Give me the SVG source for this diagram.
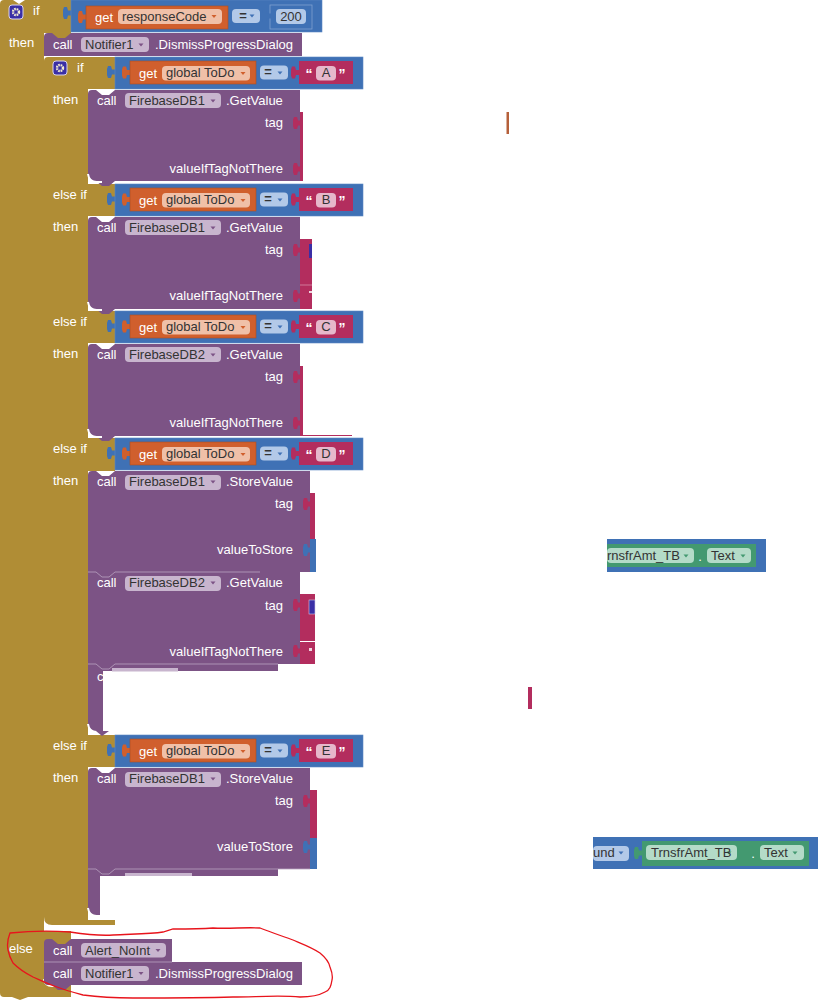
<svg xmlns="http://www.w3.org/2000/svg" width="818" height="1000" viewBox="0 0 818 1000">
<style>
text{font-family:"Liberation Sans",Arial,sans-serif;font-size:13px}
.w{fill:#fff}.k{fill:#333}.m{text-anchor:middle}.e{text-anchor:end}.b{font-weight:bold}
.q{font-size:14px;font-weight:bold;fill:#fff;text-anchor:middle}
.gold{fill:#b08d35}.blue{fill:#3f71b5;stroke:#5a88c4;stroke-width:.6}.or{fill:#d05f2d;stroke:#a84d24;stroke-width:.6}.pk{fill:#b32d5e}.pu{fill:#7c5385}.gr{fill:#439970}
.por{fill:#f0c0a8}.ppu{fill:#c8b5ce}.pbl{fill:#b3c9e8}.pgr{fill:#b4dbc8}.ppk{fill:#e6b8cb}
.ao{fill:#d05f2d}.ap{fill:#7c5385}.ab{fill:#3f71b5}.ag{fill:#439970}
.seam{fill:none;stroke:#b9a3c0;stroke-width:.8}
.gap{fill:none;stroke:#fff;stroke-width:2}
</style>
<defs>
<path id="tab" d="M1 3.500H-3L-4 0H-7L-8 3V9L-7 12H-4L-3 8.500H1Z"/>
<path id="arrow" d="M-2.500 -1.500H2.500L0 1.500Z"/>
<g id="gear"><rect x="0" y="0" width="14" height="14" rx="3" fill="#3a2fa6" stroke="#d8d3ee" stroke-width="1"/><circle cx="7" cy="7" r="3" fill="none" stroke="#f3ecd2" stroke-width="2.400" stroke-dasharray="1.600 .8"/></g>
<g id="cmp">
<use href="#tab" x="0" y="9" class="ab"/>
<rect x="0" y="0" width="248" height="32" class="blue"/>
<use href="#tab" x="15" y="9.500" class="ao"/>
<rect x="15" y="4" width="126" height="23" class="or"/>
<rect x="47" y="9" width="88" height="14.500" rx="4" class="por"/>
<use href="#arrow" x="128" y="16.500" class="ao"/>
<rect x="145" y="8.500" width="28" height="14" rx="4" class="pbl"/>
<use href="#tab" x="184" y="9.500" class="pk"/>
<rect x="184" y="4" width="54" height="23" class="pk"/>
<rect x="201" y="9" width="20" height="14.500" rx="4" class="ppk"/>
</g>
</defs>

<g id="gold-outer">
<path class="gold" d="M0 4Q0 0 4 0H13L19 4L25 0H71V33H44V931H71V997H28L20 1000L12 997H4Q0 997 0 993Z"/>
<path class="gold" d="M48 33H71V39H48Z"/>
</g>
<g id="gold-inner">
<path class="gold" d="M44 61Q44 57 48 57H115V89H88V184H115V216H88V311H115V343H88V438H115V471H88V735H115V767H88V920H115V925H52Q44 925 44 917Z"/>
</g>

<g id="labels-gold">
<use href="#gear" x="9" y="5"/>
<text class="w" x="33" y="15">if</text>
<text class="w" x="9" y="47">then</text>
<use href="#gear" x="53" y="61"/>
<text class="w" x="77" y="72">if</text>
<text class="w" x="53" y="104">then</text>
<text class="w" x="53" y="199">else if</text>
<text class="w" x="53" y="231">then</text>
<text class="w" x="53" y="326">else if</text>
<text class="w" x="53" y="358">then</text>
<text class="w" x="53" y="453">else if</text>
<text class="w" x="53" y="485">then</text>
<text class="w" x="53" y="750">else if</text>
<text class="w" x="53" y="782">then</text>
<text class="w" x="9" y="953">else</text>
</g>

<g id="if-response">
<use href="#tab" x="71" y="7" class="ab"/>
<rect x="71" y="0" width="251" height="32" class="blue"/>
<use href="#tab" x="86" y="11" class="ao"/>
<rect x="86" y="6" width="142" height="23" class="or"/>
<rect x="118" y="9" width="104" height="15" rx="4" class="por"/>
<use href="#arrow" x="214" y="16.500" class="ao"/>
<text class="w" x="95" y="22">get</text>
<text class="k" x="122" y="21">responseCode</text>
<rect x="232" y="9" width="28" height="14" rx="4" class="pbl"/>
<text class="k m b" x="243" y="20">=</text>
<use href="#arrow" x="252" y="16" class="ab"/>
<rect x="270" y="5" width="42" height="24" fill="#3f71b5" stroke="#7fa0d0" stroke-width=".8"/>
<use href="#tab" x="270" y="10" class="ab"/>
<rect x="276" y="9" width="30" height="15" rx="4" class="pbl"/>
<text class="k m" x="291" y="21">200</text>
</g>

<g id="notifier-dismiss-1">
<path class="pu" d="M44 37Q44 33 48 33H52L58 38H65L71 33H302V56H44Z"/>
<rect x="81" y="37" width="68" height="15" rx="4" class="ppu"/>
<use href="#arrow" x="141" y="45" class="ap"/>
<text class="w" x="53" y="49">call</text>
<text class="k" x="85" y="49">Notifier1</text>
<text class="w" x="155" y="49">.DismissProgressDialog</text>
</g>

<g id="cmp-a"><use href="#cmp" x="115" y="57"/><text class="w" x="139" y="78">get</text><text class="k" x="166" y="77">global ToDo</text><text class="k m b" x="268" y="76">=</text><use href="#arrow" x="280" y="73" class="ab"/><text class="q" x="309" y="79">“</text><text class="k m" x="326" y="77">A</text><text class="q" x="342" y="79">”</text></g>
<g id="cmp-b"><use href="#cmp" x="115" y="184"/><text class="w" x="139" y="205">get</text><text class="k" x="166" y="204">global ToDo</text><text class="k m b" x="268" y="203">=</text><use href="#arrow" x="280" y="200" class="ab"/><text class="q" x="309" y="206">“</text><text class="k m" x="326" y="204">B</text><text class="q" x="342" y="206">”</text></g>
<g id="cmp-c"><use href="#cmp" x="115" y="311"/><text class="w" x="139" y="332">get</text><text class="k" x="166" y="331">global ToDo</text><text class="k m b" x="268" y="330">=</text><use href="#arrow" x="280" y="327" class="ab"/><text class="q" x="309" y="333">“</text><text class="k m" x="326" y="331">C</text><text class="q" x="342" y="333">”</text></g>
<g id="cmp-d"><use href="#cmp" x="115" y="438"/><text class="w" x="139" y="459">get</text><text class="k" x="166" y="458">global ToDo</text><text class="k m b" x="268" y="457">=</text><use href="#arrow" x="280" y="454" class="ab"/><text class="q" x="309" y="460">“</text><text class="k m" x="326" y="458">D</text><text class="q" x="342" y="460">”</text></g>
<g id="cmp-e"><use href="#cmp" x="115" y="735"/><text class="w" x="139" y="756">get</text><text class="k" x="166" y="755">global ToDo</text><text class="k m b" x="268" y="754">=</text><use href="#arrow" x="280" y="751" class="ab"/><text class="q" x="309" y="757">“</text><text class="k m" x="326" y="755">E</text><text class="q" x="342" y="757">”</text></g>

<g id="getvalue-a">
<rect x="300" y="112" width="3" height="69" class="pk"/>
<path class="pu" d="M88 94Q88 90 92 90H96L102 95H109L115 90H300V181H115L109 186H102L96 181H96Q88 181 88 173Z"/>
<path class="gap" d="M88 174Q89 182 97 182H102"/>
<use href="#tab" x="301" y="117" class="pk"/><use href="#tab" x="301" y="163" class="pk"/>
<rect x="125" y="93" width="96" height="15" rx="4" class="ppu"/><use href="#arrow" x="213" y="101" class="ap"/>
<text class="w" x="97" y="105">call</text><text class="k" x="129" y="105">FirebaseDB1</text><text class="w" x="226" y="105">.GetValue</text>
<text class="w e" x="283" y="127">tag</text><text class="w e" x="283" y="173">valueIfTagNotThere</text>
</g>

<g id="getvalue-b">
<rect x="300" y="239" width="12" height="70" class="pk"/>
<path d="M300 285H312" stroke="#d88aa8" stroke-width=".8"/>
<rect x="309" y="244" width="3" height="14" fill="#3a2fa6"/>
<rect x="309" y="291" width="3" height="2" fill="#f0d5df"/>
<path class="pu" d="M88 221Q88 217 92 217H96L102 222H109L115 217H300V309H115L109 314H102L96 309H96Q88 309 88 301Z"/>
<path class="gap" d="M88 302Q89 310 97 310H102"/>
<use href="#tab" x="301" y="244" class="pk"/><use href="#tab" x="301" y="290" class="pk"/>
<rect x="125" y="220" width="96" height="15" rx="4" class="ppu"/><use href="#arrow" x="213" y="228" class="ap"/>
<text class="w" x="97" y="232">call</text><text class="k" x="129" y="232">FirebaseDB1</text><text class="w" x="226" y="232">.GetValue</text>
<text class="w e" x="283" y="254">tag</text><text class="w e" x="283" y="300">valueIfTagNotThere</text>
</g>

<g id="getvalue-c">
<rect x="300" y="366" width="3" height="70" class="pk"/>
<rect x="300" y="435" width="52" height="1" class="pk"/>
<path class="pu" d="M88 348Q88 344 92 344H96L102 349H109L115 344H300V436H115L109 441H102L96 436H96Q88 436 88 428Z"/>
<path class="gap" d="M88 429Q89 437 97 437H102"/>
<use href="#tab" x="301" y="371" class="pk"/><use href="#tab" x="301" y="417" class="pk"/>
<rect x="125" y="347" width="96" height="15" rx="4" class="ppu"/><use href="#arrow" x="213" y="355" class="ap"/>
<text class="w" x="97" y="359">call</text><text class="k" x="129" y="359">FirebaseDB2</text><text class="w" x="226" y="359">.GetValue</text>
<text class="w e" x="283" y="381">tag</text><text class="w e" x="283" y="427">valueIfTagNotThere</text>
</g>

<g id="storevalue-d">
<rect x="310" y="493" width="5" height="46" class="pk"/>
<rect x="310" y="539" width="6" height="33" fill="#3f71b5"/>
<path class="pu" d="M88 475Q88 471 92 471H96L102 476H109L115 471H310V572H88Z"/>
<use href="#tab" x="311" y="498" class="pk"/><use href="#tab" x="311" y="544" class="ab"/>
<rect x="125" y="475" width="96" height="15" rx="4" class="ppu"/><use href="#arrow" x="213" y="482" class="ap"/>
<text class="w" x="97" y="486">call</text><text class="k" x="129" y="486">FirebaseDB1</text><text class="w" x="226" y="486">.StoreValue</text>
<text class="w e" x="293" y="508">tag</text><text class="w e" x="293" y="554">valueToStore</text>
</g>

<g id="getvalue-d2">
<rect x="300" y="594" width="15" height="47" class="pk"/>
<rect x="300" y="642" width="15" height="22" class="pk"/>
<rect x="309" y="600" width="6" height="14" fill="#3a2fa6" stroke="#cfc9e8" stroke-width=".6"/>
<rect x="309" y="648" width="3" height="3" fill="#f0d5df"/>
<path class="pu" d="M88 572H300V664H88Z"/>
<path class="seam" d="M88 572H96L102 577H109L115 572H260"/>
<use href="#tab" x="301" y="599" class="pk"/><use href="#tab" x="301" y="645" class="pk"/>
<rect x="125" y="576" width="96" height="15" rx="4" class="ppu"/><use href="#arrow" x="213" y="583" class="ap"/>
<text class="w" x="97" y="587">call</text><text class="k" x="129" y="587">FirebaseDB2</text><text class="w" x="226" y="587">.GetValue</text>
<text class="w e" x="283" y="610">tag</text><text class="w e" x="283" y="656">valueIfTagNotThere</text>
</g>

<g id="cut-call-d">
<path class="pu" d="M88 664H278V671H103V731H96Q88 731 88 723Z"/>
<path class="seam" d="M88 664H96L102 669H109L115 664H278"/>
<rect x="112" y="668" width="66" height="3.500" class="ppu"/>
<path class="gap" d="M88 724Q89 732 97 732H103"/>
<path class="pu" d="M96 731H109L102 736Z"/>
<text class="w" x="97" y="681">c</text>
</g>

<g id="storevalue-e">
<rect x="310" y="790" width="7" height="48" class="pk"/>
<rect x="310" y="838" width="7" height="31" fill="#3f71b5"/>
<path class="pu" d="M88 772Q88 768 92 768H96L102 773H109L115 768H310V869H88Z"/>
<use href="#tab" x="311" y="795" class="pk"/><use href="#tab" x="311" y="841" class="ab"/>
<rect x="125" y="772" width="96" height="15" rx="4" class="ppu"/><use href="#arrow" x="213" y="779" class="ap"/>
<text class="w" x="97" y="783">call</text><text class="k" x="129" y="783">FirebaseDB1</text><text class="w" x="226" y="783">.StoreValue</text>
<text class="w e" x="293" y="805">tag</text><text class="w e" x="293" y="851">valueToStore</text>
</g>

<g id="cut-call-e">
<path class="pu" d="M88 869H278V876H100V915H96Q88 915 88 907Z"/>
<path class="seam" d="M88 869H96L102 874H109L115 869H310"/>
<rect x="125" y="873" width="67" height="3" class="ppu"/>
<path class="gap" d="M88 908Q89 916 97 916H100"/>
</g>

<g id="else-calls">
<path class="pu" d="M44 943Q44 939 48 939H52L58 944H65L71 939H172V962H44Z"/>
<rect x="81" y="943" width="85" height="14.500" rx="4" class="ppu"/><use href="#arrow" x="158" y="950.500" class="ap"/>
<text class="w" x="53" y="955">call</text><text class="k" x="85" y="955">Alert_NoInt</text>
<path class="gap" d="M44 979Q45 986 52 986H57"/>
<path class="pu" d="M44 962H302V985H71L65 990H58L52 985H48Q44 985 44 981Z"/>
<path class="seam" d="M44 962H172"/>
<rect x="81" y="966" width="68" height="15" rx="4" class="ppu"/><use href="#arrow" x="141" y="973.500" class="ap"/>
<text class="w" x="53" y="978">call</text><text class="k" x="85" y="978">Notifier1</text><text class="w" x="155" y="978">.DismissProgressDialog</text>
</g>

<g id="frag-top"><rect x="506.500" y="112" width="2.500" height="22" fill="#b5603a"/></g>
<g id="frag-pink"><rect x="528" y="687" width="4" height="22" class="pk"/></g>

<g id="frag-store-1">
<rect x="607" y="539" width="159" height="33" fill="#3f71b5"/>
<rect x="607" y="544" width="149" height="23" class="gr"/>
<rect x="607" y="548" width="87" height="15" rx="4" class="pgr"/><use href="#arrow" x="686" y="556" class="ag"/>
<text class="k" x="607" y="560">rnsfrAmt_TB</text>
<text class="w m" x="700" y="561">.</text>
<rect x="707" y="548" width="44" height="15" rx="4" class="pgr"/><use href="#arrow" x="743" y="556" class="ag"/>
<text class="k" x="711" y="560">Text</text>
</g>

<g id="frag-store-2">
<rect x="593" y="837" width="225" height="32" fill="#3f71b5"/>
<rect x="593" y="846" width="36" height="15" rx="4" class="pbl"/><use href="#arrow" x="621" y="853" class="ab"/>
<text class="k" x="593" y="857">und</text>
<use href="#tab" x="642" y="847" class="ag"/>
<rect x="642" y="841" width="167" height="25" class="gr"/>
<rect x="646" y="845" width="91" height="15" rx="4" class="pgr"/><use href="#arrow" x="729" y="853" class="ag"/>
<text class="k" x="651" y="857">TrnsfrAmt_TB</text>
<text class="w m" x="753" y="858">.</text>
<rect x="760" y="845" width="44" height="15" rx="4" class="pgr"/><use href="#arrow" x="795" y="853" class="ag"/>
<text class="k" x="764" y="857">Text</text>
</g>

<g id="red-outline">
<path fill="none" stroke="#e8141c" stroke-width="1.300" d="M10 933C30 931 55 931 70 932C90 935 100 936 113 935C130 934 150 934 163 932L173 929C190 929 200 929 213 928C230 929 245 927 260 928C270 932 282 936 293 940C305 945 313 948 320 953C326 958 329 962 330 967C332 972 333 976 332 980C331 986 330 990 325 992C318 996 308 997 300 997C280 995 255 997 233 997C200 998 165 998 133 998C115 998 98 997 83 995C72 992 65 990 57 987C48 984 42 981 33 977C25 973 18 968 13 963C10 958 9 955 8 950C7 945 8 938 10 933Z"/>
</g>
</svg>
